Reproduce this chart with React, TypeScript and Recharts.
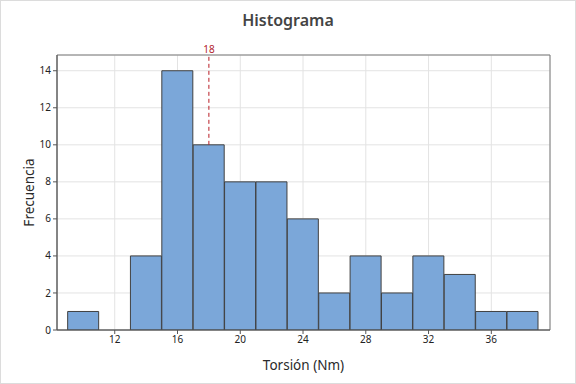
import {
  Bar,
  BarChart,
  CartesianGrid,
  ReferenceArea,
  ReferenceLine,
  XAxis,
  YAxis,
} from "recharts";

const binCenters = [10, 12, 14, 16, 18, 20, 22, 24, 26, 28, 30, 32, 34, 36, 38];
const counts = [1, 0, 4, 14, 10, 8, 8, 6, 2, 4, 2, 4, 3, 1, 1];
const xTicks = [12, 16, 20, 24, 28, 32, 36];
const yTicks = [0, 2, 4, 6, 8, 10, 12, 14];
const xDomain = [8.32, 39.74];
const yDomain = [0, 14.85];
const refValue = 18;
const refCount = 10;

const font = "'Noto Sans', 'Open Sans', sans-serif";

export default function App() {
  const data = binCenters.map((x, i) => ({ x, count: counts[i] }));

  return (
    <div
      style={{
        position: "absolute",
        left: 0,
        top: 0,
        width: 574,
        height: 382,
        border: "1px solid #dcdcdc",
        background: "#fff",
        fontFamily: font,
      }}
    >
      <div
        style={{
          position: "absolute",
          top: 8,
          width: "100%",
          textAlign: "center",
          fontSize: 16,
          fontWeight: 600,
          color: "#444",
        }}
      >
        Histograma
      </div>
      <BarChart
        width={574}
        height={382}
        data={data}
        barCategoryGap={0}
        margin={{ top: 54, right: 25, bottom: 0, left: 0 }}
        style={{ fontFamily: font }}
      >
        <CartesianGrid stroke="#e3e3e3" />
        <XAxis
          dataKey="x"
          type="number"
          domain={xDomain}
          ticks={xTicks}
          allowDataOverflow
          height={53}
          tickSize={4}
          stroke="#555"
          tick={{ fontSize: 10, fill: "#222" }}
          label={{
            value: "Torsión (Nm)",
            position: "insideBottom",
            offset: 13,
            fontSize: 13.5,
            fill: "#2a2a2a",
          }}
        />
        <YAxis
          type="number"
          domain={yDomain}
          ticks={yTicks}
          allowDataOverflow
          width={56}
          tickSize={4}
          stroke="#555"
          tick={{ fontSize: 10, fill: "#222" }}
          label={{
            value: "Frecuencia",
            angle: -90,
            position: "insideLeft",
            offset: 28,
            fontSize: 13.5,
            fill: "#2a2a2a",
            style: { textAnchor: "middle" },
          }}
        />
        <ReferenceArea
          x1={xDomain[0]}
          x2={xDomain[1]}
          y1={yDomain[0]}
          y2={yDomain[1]}
          fill="none"
          stroke="#7a7a7a"
          strokeWidth={1}
        />
        <ReferenceLine
          segment={[
            { x: refValue, y: refCount },
            { x: refValue, y: yDomain[1] },
          ]}
          stroke="#b81c24"
          strokeDasharray="4 3"
          label={{
            value: String(refValue),
            position: "top",
            offset: 2,
            fill: "#b2222b",
            fontSize: 10,
          }}
        />
        <Bar
          dataKey="count"
          fill="#7ba7d9"
          stroke="#404040"
          strokeWidth={1}
          isAnimationActive={false}
        />
      </BarChart>
    </div>
  );
}
